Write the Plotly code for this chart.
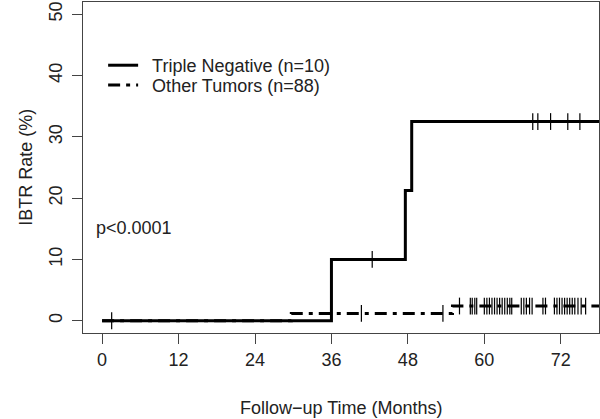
import plotly.graph_objects as go

# Kaplan-Meier steps (months, IBTR %)
tn_time = [0, 36.0, 47.6, 48.6, 78.0]
tn_rate = [0, 10.0, 21.25, 32.5, 32.5]
ot_time = [0, 29.7, 55.0, 78.0]
ot_rate = [0, 1.2, 2.4, 2.4]

# censored observations (+ marks)
tn_cens = [1.5, 42.4, 67.6, 68.4, 70.4, 73.1, 75.0]
ot_cens = [40.7, 53.5, 56.1, 57.8, 58.1, 58.5, 58.8, 60.0, 60.4, 60.8, 61.2,
           61.6, 62.0, 62.4, 62.8, 63.2, 63.6, 64.0, 64.3, 65.8, 66.2, 66.6,
           67.1, 67.5, 69.2, 69.6, 71.0, 71.4, 71.8, 72.2, 72.6, 73.0, 73.4,
           73.8, 74.2, 74.7, 75.2, 75.9]

x_ticks = [0, 12, 24, 36, 48, 60, 72]
y_ticks = [0, 10, 20, 30, 40, 50]


def level_at(times, rates, t):
    val = rates[0]
    for tt, rr in zip(times, rates):
        if tt <= t:
            val = rr
    return val


FONT = "Liberation Sans, Arial, sans-serif"
INK = "#222222"
font18 = dict(family=FONT, size=18, color=INK)

fig = go.Figure()

fig.add_trace(go.Scatter(
    x=tn_time, y=tn_rate, mode="lines", line_shape="hv",
    line=dict(color="black", width=3),
    name="\u2002Triple Negative (n=10)", legend="legend"
))
fig.add_trace(go.Scatter(
    x=ot_time, y=ot_rate, mode="lines", line_shape="hv",
    line=dict(color="black", width=3, dash="12px,6px,4px,6px"),
    name="\u2002Other Tumors (n=88)", legend="legend2"
))

fig.add_trace(go.Scatter(
    x=ot_cens, y=[level_at(ot_time, ot_rate, t) for t in ot_cens],
    mode="markers", showlegend=False, hoverinfo="skip",
    marker=dict(symbol="line-ns", size=12, line=dict(color="black", width=1.2))
))
fig.add_trace(go.Scatter(
    x=tn_cens, y=[level_at(tn_time, tn_rate, t) for t in tn_cens],
    mode="markers", showlegend=False, hoverinfo="skip",
    marker=dict(symbol="line-ns", size=12, line=dict(color="black", width=1.2))
))

fig.add_annotation(x=-1.3, y=15.1, text="p<0.0001", showarrow=False,
                   xanchor="left", yanchor="middle", font=font18)

# axis titles
fig.add_annotation(x=0.5, y=-0.227, xref="paper", yref="paper",
                   text="Follow\u2212up Time (Months)", showarrow=False,
                   xanchor="center", yanchor="middle", font=font18)
fig.add_annotation(x=-0.112, y=0.5, xref="paper", yref="paper",
                   text="IBTR Rate (%)", showarrow=False, textangle=-90,
                   xanchor="center", yanchor="middle", font=font18)

axis_style = dict(
    ticks="outside", ticklen=10, tickcolor="#444", tickwidth=1,
    showline=True, linecolor="#444", linewidth=1, mirror=True,
    showgrid=False, zeroline=False, automargin=False, tickfont=font18,
)
fig.update_xaxes(range=[-3, 78], tickvals=x_ticks, **axis_style)
fig.update_yaxes(range=[-2, 52], tickvals=y_ticks, tickangle=-90,
                 ticklabelstandoff=3, **axis_style)

leg = dict(xanchor="left", yanchor="top", bgcolor="rgba(0,0,0,0)",
           font=font18, itemwidth=30)
fig.update_layout(
    width=600, height=419,
    margin=dict(l=83, r=1, t=2, b=86),
    plot_bgcolor="white", paper_bgcolor="white",
    legend=dict(x=0.039, y=0.864, **leg),
    legend2=dict(x=0.039, y=0.804, **leg),
)

# drop the browser's default page margin so the figure sits at the corner
fig.write_html("out.html", config={"displayModeBar": False},
               post_script="document.body.style.margin='0';")
